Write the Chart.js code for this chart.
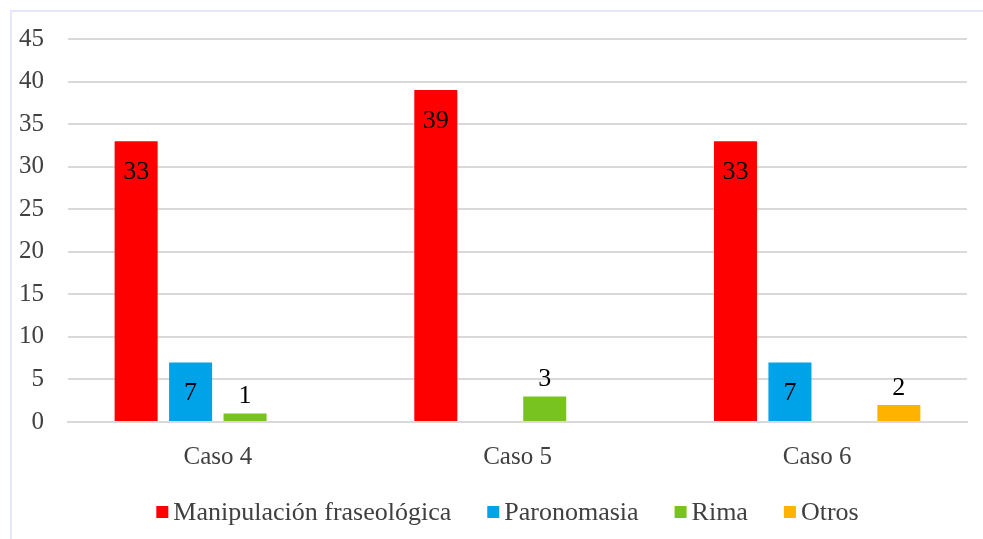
<!DOCTYPE html>
<html>
<head>
<meta charset="utf-8">
<script src="https://cdn.jsdelivr.net/npm/chart.js@4.4.0/dist/chart.umd.min.js"></script>
<style>
  body { margin: 0; background: #fff; }
  #wrap { position: relative; width: 983px; height: 539px; overflow: hidden; }
  #frame { position: absolute; left: 10px; top: 10px; width: 1000px; height: 600px;
           border-left: 2px solid #E6E6FF; border-top: 2px solid #E6E6FF; }
  canvas { position: absolute; left: 0; top: 0; }
</style>
</head>
<body>
<div id="wrap">
  <div id="frame"></div>
  <canvas id="myChart" width="983" height="539"></canvas>
</div>
<script>
const categories = ["Caso 4", "Caso 5", "Caso 6"];
const manipulacion = [33, 39, 33];
const paronomasia = [7, null, 7];
const rima = [1, 3, null];
const otros = [null, null, 2];
const yTicks = [0, 5, 10, 15, 20, 25, 30, 35, 40, 45];

const serif = "'Liberation Serif', 'Times New Roman', serif";

// labels inside the top of tall bars, above the short ones
const barLabels = {
  id: "barLabels",
  afterDatasetsDraw(chart) {
    const ctx = chart.ctx;
    ctx.save();
    ctx.font = "26px " + serif;
    ctx.fillStyle = "#000";
    ctx.textAlign = "center";
    ctx.textBaseline = "middle";
    chart.data.datasets.forEach((ds, i) => {
      const meta = chart.getDatasetMeta(i);
      meta.data.forEach((bar, j) => {
        const v = ds.data[j];
        if (v === null || v === undefined) return;
        const h = bar.base - bar.y;
        const y = h > 45 ? bar.y + 31 : bar.y - 17;
        ctx.fillText(String(v), bar.x, y);
      });
    });
    ctx.restore();
  }
};

// excel-like legend: small square, tight gap to the text
const bottomLegend = {
  id: "bottomLegend",
  afterDraw(chart) {
    const ctx = chart.ctx;
    const box = 12, gap = 5, spacing = 36;
    ctx.save();
    ctx.font = "26px " + serif;
    ctx.textBaseline = "middle";
    ctx.textAlign = "left";
    const items = chart.data.datasets.map((ds) => ({
      text: ds.label,
      color: ds.backgroundColor,
      w: box + gap + ctx.measureText(ds.label).width,
    }));
    const total = items.reduce((s, it) => s + it.w, 0) + spacing * (items.length - 1);
    const area = chart.chartArea;
    let x = (area.left + area.right) / 2 - 10 - total / 2;
    const y = area.bottom + 90;
    items.forEach((it) => {
      ctx.fillStyle = it.color;
      ctx.fillRect(x, y - box / 2, box, box);
      ctx.fillStyle = "#404040";
      ctx.fillText(it.text, x + box + gap, y + 1);
      x += it.w + spacing;
    });
    ctx.restore();
  }
};

const ctx = document.getElementById("myChart");
const data = {
  labels: categories,
  datasets: [
    { label: "Manipulación fraseológica", data: manipulacion, backgroundColor: "#FF0000" },
    { label: "Paronomasia", data: paronomasia, backgroundColor: "#00A2E8" },
    { label: "Rima", data: rima, backgroundColor: "#78C320" },
    { label: "Otros", data: otros, backgroundColor: "#FFB300" },
  ],
};

const config = {
  type: "bar",
  data: data,
  options: {
    responsive: false,
    animation: false,
    devicePixelRatio: 1,
    categoryPercentage: 0.727,
    barPercentage: 0.79,
    layout: { padding: { top: 36, right: 16, left: 0, bottom: 55 } },
    plugins: {
      tooltip: { enabled: false },
      legend: { display: false },
    },
    scales: {
      x: {
        grid: { display: false },
        border: { color: "#D9D9D9", width: 2 },
        ticks: { color: "#404040", padding: 12, font: { family: serif, size: 25 } },
        afterFit(scale) { scale.height = 62; },
      },
      y: {
        min: 0,
        max: 45,
        afterBuildTicks(scale) { scale.ticks = yTicks.map((v) => ({ value: v })); },
        grid: { color: "#D9D9D9", lineWidth: 2, drawTicks: false },
        border: { display: false },
        ticks: { color: "#404040", padding: 24, font: { family: serif, size: 25 } },
        afterFit(scale) { scale.width = 68; },
      },
    },
  },
  plugins: [barLabels, bottomLegend],
};

const myChart = new Chart(ctx, config);
</script>
</body>
</html>
